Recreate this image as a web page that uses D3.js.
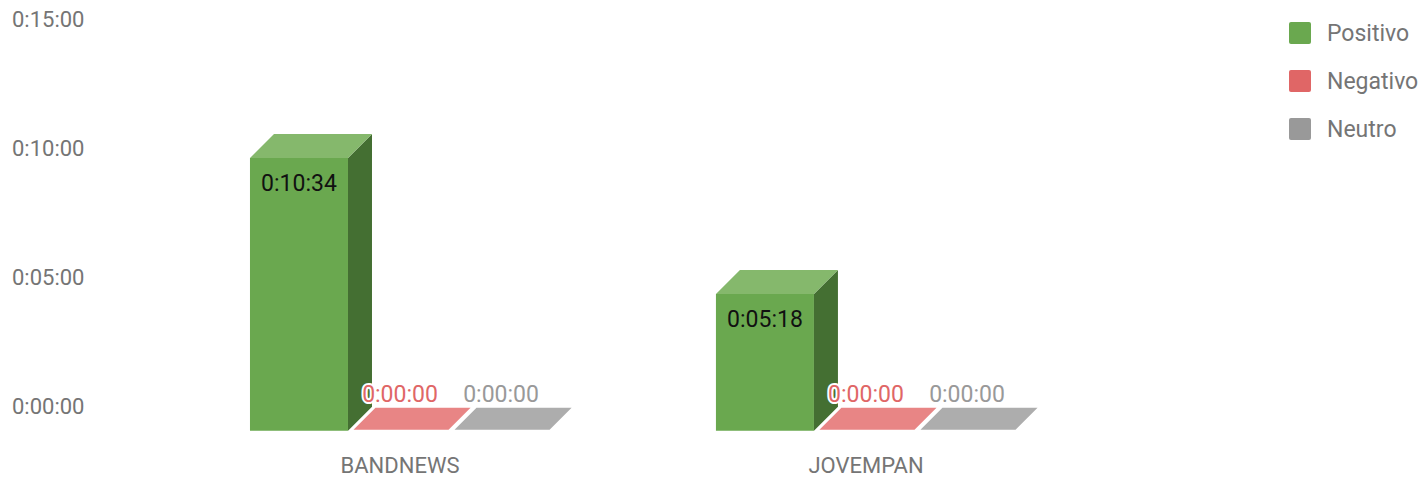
<!DOCTYPE html>
<html><head><meta charset="utf-8">
<script src="https://cdn.jsdelivr.net/npm/d3@7"></script>
<style>html,body{margin:0;padding:0;background:#fff;}svg{display:block;font-family:Roboto,sans-serif;}</style>
</head><body>
<svg id="c" width="1421" height="477"></svg>
<script>
const categories = ["BANDNEWS", "JOVEMPAN"];
const seriesNames = ["Positivo", "Negativo", "Neutro"];
// values in seconds
const positivo = [634, 318];
const negativo = [0, 0];
const neutro = [0, 0];
const yTicks = [0, 300, 600, 900];
const colors = {Positivo:"#6aa84f", Negativo:"#e06666", Neutro:"#999999"};
const topColors = {Positivo:"#85b86c", Negativo:"#e88585", Neutro:"#adadad"};
const sideColors = {Positivo:"#446f32", Negativo:"#b34f4f", Neutro:"#7a7a7a"};
const labelColors = {Positivo:"#111111", Negativo:"#e06666", Neutro:"#999999"};

const seriesValues = {Positivo: positivo, Negativo: negativo, Neutro: neutro};
const fmt = s => { const h=Math.floor(s/3600), m=Math.floor((s%3600)/60), sec=s%60;
  return h+":"+String(m).padStart(2,"0")+":"+String(sec).padStart(2,"0"); };

const svg = d3.select("#c");
const DX = 24, DY = 24;
const y = d3.scaleLinear().domain([0, 900]).range([406.7, 19.5]);
const x0 = d3.scaleBand().domain(categories).range([17, 1249]).paddingInner(0.356).paddingOuter(0.5);
const x1 = d3.scaleBand().domain(seriesNames).range([0, x0.bandwidth()]).paddingInner(0.03);

// y axis labels
svg.append("g").selectAll("text").data(yTicks).join("text")
  .attr("x", 12).attr("y", d => y(d)).attr("dy", "0.35em")
  .attr("font-size", 22).attr("fill", "#757575").text(d => fmt(d));

const bars = [];
categories.forEach((c, i) => seriesNames.forEach(s => bars.push({cat:c, s, v: seriesValues[s][i]})));

const g = svg.append("g");
bars.forEach(b => {
  const xl = x0(b.cat) + x1(b.s), w = x1.bandwidth();
  const yb = y(0) + DY, yt = y(b.v) + DY;
  const gg = g.append("g");
  if (yb - yt > 0.5) {
    gg.append("path").attr("d", `M${xl},${yb}V${yt}H${xl+w}V${yb}Z`).attr("fill", colors[b.s]);
    gg.append("path").attr("d", `M${xl+w},${yb}V${yt}L${xl+w+DX},${yt-DY}V${yb-DY}Z`).attr("fill", sideColors[b.s]);
  }
  gg.append("path").attr("d", `M${xl},${yt}L${xl+DX},${yt-DY}H${xl+w+DX}L${xl+w},${yt}Z`)
    .attr("fill", topColors[b.s]).attr("stroke", "#fff").attr("stroke-width", b.v>0?0:2).attr("stroke-linejoin","round");
});

// labels
bars.forEach(b => {
  const xl = x0(b.cat) + x1(b.s), w = x1.bandwidth();
  const yt = y(b.v) + DY;
  const inside = b.v > 0;
  svg.append("text").attr("x", xl + w/2).attr("y", inside ? yt + 33 : y(b.v) - 5)
    .attr("text-anchor", "middle").attr("font-size", 23)
    .attr("fill", labelColors[b.s])
    .attr("stroke", inside ? "none" : "#fff").attr("stroke-width", 4).attr("stroke-linejoin","round")
    .attr("paint-order", "stroke")
    .text(fmt(b.v));
});

// category labels
svg.append("g").selectAll("text").data(categories).join("text")
  .attr("x", d => x0(d) + x0.bandwidth()/2).attr("y", 473)
  .attr("text-anchor", "middle").attr("font-size", 22).attr("fill", "#757575").text(d => d);

// legend
const lg = svg.append("g").selectAll("g").data(seriesNames).join("g")
  .attr("transform", (d, i) => `translate(1289,${22 + i*48})`);
lg.append("rect").attr("width", 22).attr("height", 22).attr("rx", 2).attr("fill", d => colors[d]);
lg.append("text").attr("x", 38).attr("y", 11).attr("dy", "0.35em").attr("font-size", 23)
  .attr("fill", "#757575").text(d => d);
</script>
</body></html>
